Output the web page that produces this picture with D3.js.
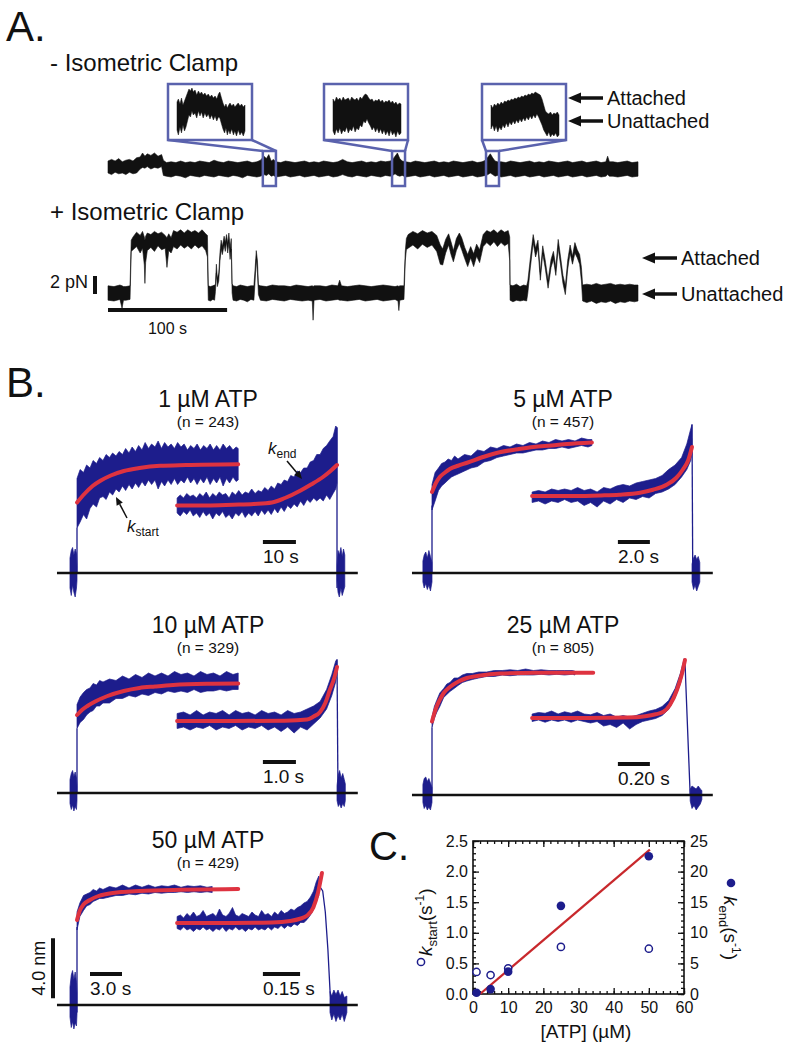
<!DOCTYPE html>
<html><head><meta charset="utf-8">
<script src="https://cdn.jsdelivr.net/npm/d3@7"></script>
<style>
body{margin:0;background:#fff}
text{font-family:"Liberation Sans",Arial,sans-serif;fill:#111}
</style>
</head><body>
<svg id="fig" width="792" height="1051"></svg>
<script>
// ---------- panel A data (time in s, force in pN, [t, low, high] envelopes) ----------
var topTrace = [[0,-0.5,1.0],[3,-0.7,1.2],[6,-0.4,1.0],[9,-0.6,1.3],[12,-0.5,0.9],[15,-0.7,1.1],[18,-0.4,1.2],[21,-0.6,1.0],[24,-0.5,1.4],[27,0.0,1.5],
  [29,0.2,2.0],[31,0.1,1.6],[33,0.3,1.9],[36,0.0,1.7],[39,0.2,2.0],[42,0.1,1.6],[45,0.3,1.8],[46.5,-0.8,1.1],
  [49,-0.9,0.8],[53,-1.0,0.9],[57,-0.8,0.8],[61,-0.9,1.0],[65,-1.1,0.8],[69,-0.8,0.9],[73,-0.9,0.8],[77,-1.0,1.0],[81,-0.8,0.9],[85,-0.9,0.8],[89,-1.0,1.1],[93,-0.8,0.9],[97,-0.9,0.8],[101,-1.0,1.0],[105,-0.8,0.9],[109,-0.9,0.8],[113,-1.1,0.9],[117,-0.8,1.0],[121,-0.9,0.8],[125,-1.0,0.9],
  [128,-0.9,1.1],[131,-0.7,1.6],[133,-0.8,1.3],[135,-0.6,1.8],[137,-0.9,1.0],[139,-0.8,1.2],[141,-1.0,0.9],
  [145,-0.9,0.8],[149,-0.8,1.0],[153,-1.0,0.9],[157,-0.9,0.8],[161,-0.8,0.9],[165,-1.0,1.0],[169,-0.9,0.8],[173,-0.8,0.9],[177,-1.0,0.8],[181,-0.9,1.0],[185,-0.8,0.9],[189,-1.0,0.8],[193,-0.9,0.9],[197,-0.7,1.2],[201,-0.9,0.9],[205,-1.0,0.8],[209,-0.8,0.9],[213,-0.9,1.0],[217,-1.0,0.8],[221,-0.8,0.9],[225,-0.9,0.8],[229,-1.0,1.0],[233,-0.8,0.9],
  [237,-0.9,1.0],[239,-0.8,1.2],[241,-0.6,1.6],[243,-0.8,2.0],[245,-0.9,1.3],[247,-0.8,1.0],[250,-1.0,0.9],
  [254,-0.9,0.8],[258,-0.8,1.0],[262,-1.0,0.9],[266,-0.9,0.8],[270,-0.8,0.9],[274,-1.0,1.0],[278,-0.9,0.8],[282,-0.8,0.9],[286,-1.0,0.8],[290,-0.9,1.0],[294,-0.8,0.9],[298,-1.0,0.8],[302,-0.9,0.9],[306,-0.8,1.0],[310,-1.0,0.8],[314,-0.9,0.9],
  [317,-0.8,1.1],[319,-0.7,1.5],[321,-0.5,1.9],[323,-0.7,1.4],[325,-0.9,1.0],[327,-0.8,0.9],[330,-1.0,0.9],
  [334,-0.9,0.8],[338,-0.8,1.0],[342,-1.0,0.9],[346,-0.9,0.8],[350,-0.8,0.9],[354,-1.0,1.0],[358,-0.9,0.8],[362,-0.8,0.9],[366,-1.0,0.8],[370,-0.9,1.0],[374,-0.8,0.9],[378,-1.0,0.8],[382,-0.9,0.9],[386,-0.8,1.0],[390,-1.0,0.8],[394,-0.9,0.9],[398,-0.8,1.0],[402,-1.0,0.8],[406,-0.9,0.9],[410,-0.8,1.0],[414,-1.0,0.8],[418,-0.9,0.9],[419.5,-0.7,1.6],[421,-0.9,0.9],[424,-0.9,0.9],[428,-1.0,0.8],[432,-0.9,0.9],[436,-0.8,1.0],[440,-1.0,0.8],[445,-0.9,0.9]];

var clampTrace = [[0,-0.9,0.9],[5,-1.0,0.8],[10,-0.8,1.0],[11.8,-1.9,0.9],[13,-0.9,0.8],[15,-0.9,0.8],[18.5,-0.8,0.9],[19.5,5.2,6.6],[21,5.4,7.0],
  [24,5.8,7.6],[27,5.0,7.2],[29,5.6,7.7],[30.5,3.5,7.0],[31,1.2,6.6],[31.6,3.8,7.1],[33,5.3,7.5],[36,5.7,7.3],[39,5.2,7.7],[42,5.9,7.4],[45,5.4,7.6],[48,5.6,7.2],[49.5,3.2,6.9],[51,5.3,7.4],[53,5.0,6.9],[55,5.8,7.8],[58,5.5,7.6],[61,6.0,7.9],[64,5.6,7.5],[67,5.9,7.9],[70,5.5,7.6],[73,6.0,7.8],[76,5.6,7.5],[79,5.9,7.9],[82,5.3,7.4],[83.5,4.5,7.2],
  [84.2,-0.9,0.9],[86,-1.0,0.8],[88,-0.8,0.9],[89.5,-0.9,1.0],
  [90.2,0.2,1.0],[91,2.5,3.6],[91.8,0.8,1.8],[93,1.5,2.5],[94,4.0,5.0],[95,5.5,6.6],[96,4.8,5.8],[97.5,6.0,7.1],[98.5,5.2,6.3],[99.5,6.4,7.3],[100.5,5.0,6.2],[101.5,6.3,7.5],[102.5,4.2,5.6],[103.5,5.5,6.8],[104.2,0.0,1.2],
  [105,-0.9,0.9],[108,-1.0,0.8],[111,-0.8,1.0],[114,-0.9,0.9],[117,-1.1,0.8],[120,-0.8,0.9],[122.5,-0.9,0.9],
  [123.5,1.5,3.0],[124.5,4.2,5.3],[125.5,2.5,4.0],[126.3,-0.2,1.0],
  [128,-0.9,0.9],[133,-1.0,0.8],[138,-0.8,1.0],[143,-0.9,0.9],[148,-1.0,0.9],[153,-0.8,0.8],[158,-0.9,1.0],[163,-1.0,0.9],[168,-0.9,0.8],[171.5,-1.0,0.9],[172.2,-3.4,0.8],[173,-0.9,0.9],[178,-0.8,0.9],[183,-1.0,0.8],[188,-0.9,1.0],[193,-0.8,0.9],[194.5,-0.9,1.6],[196,-0.9,0.9],[201,-1.0,0.8],[206,-0.9,0.9],[211,-0.8,1.0],[216,-1.0,0.9],[221,-0.9,0.8],[226,-0.8,0.9],[231,-1.0,1.0],[236,-0.9,0.9],[241,-0.8,0.8],[243.5,-1.0,0.9],[244.2,-2.2,0.8],[245,-0.9,0.9],[248.5,-0.8,0.9],
  [249.6,4.0,5.2],[250.5,5.4,6.8],[252,5.6,7.3],[256,6.0,7.7],[260,5.5,7.4],[264,6.1,7.8],[268,5.7,7.5],[272,6.0,7.7],[276,5.2,7.2],[279,3.6,6.0],[281,3.5,5.5],[283.5,5.0,6.7],[286,6.0,7.4],[288,4.8,6.4],[290,3.9,5.3],[292.5,5.3,6.8],[295,6.2,7.5],[297,5.4,6.9],[299.5,4.3,5.7],[302,3.3,4.8],[304.5,4.4,5.8],[307,3.3,4.9],[309.5,4.6,6.1],[312,3.8,5.4],[315,5.8,7.3],[318,6.3,7.8],[321,5.9,7.6],[324,6.4,7.9],[327,5.8,7.5],[330,6.3,7.9],[333,5.9,7.6],[336,6.2,7.8],[337.3,4.0,7.0],
  [337.6,-0.9,1.0],[340,-1.1,0.9],[343,-0.9,1.1],[346,-1.0,0.8],[349,-0.9,1.0],[351.5,-1.0,0.9],
  [352.5,0.0,1.5],[354.5,3.0,4.2],[357,6.3,7.3],[359,4.5,5.6],[361,5.6,6.6],[363,1.6,2.6],[365,4.9,5.9],[367,3.2,4.2],[369.5,0.6,1.6],[372,3.2,4.2],[374,4.2,5.2],[376,2.2,3.2],[378,5.6,6.7],[380,3.5,4.5],[382,1.2,2.2],[384,-0.2,0.9],[386,3.0,4.1],[388,5.0,6.0],[390,3.6,4.6],[392,5.0,6.3],[394,4.4,5.4],[396,3.6,4.8],[397.5,1.5,3.2],
  [398.5,-1.0,1.0],[402,-1.2,1.1],[406,-1.0,1.0],[410,-1.3,1.2],[414,-1.1,1.0],[418,-1.2,1.1],[422,-1.0,1.2],[426,-1.3,1.0],[430,-1.1,1.1],[434,-1.2,1.0],[438,-1.0,1.1],[442,-1.1,1.0],[445,-1.0,1.0]];

// zoomed windows (s) and the traces shown in the insets ([u 0-100, low, high] in inset units)
var insetWindows = [[130,141],[238.5,249.4],[317.4,328.3]];
var insetTraces = [
  [[0,5,33],[2,0,36],[4.4,8,31],[6.6,2,37],[8.8,10,30],[11,4,34],[13.2,8,38],[15.4,14,42],[17.6,20,46],[19.8,18,44],[22,24,47],[24,20,43],[26.5,22,45],[29,17,40],[31.5,24,44],[33.8,19,41],[36,23,43],[38.5,17,40],[41,22,42],[43.5,18,39],[46,21,41],[48.5,16,38],[51,20,40],[53.5,15,37],[56,19,39],[58.5,14,36],[61,18,41],[63,17,43],[65,12,38],[67.6,6,32],[70,2,28],[72,7,31],[74,0,27],[76,5,30],[78,1,32],[80.5,6,29],[83,0,31],[85,4,28],[87.5,-1,30],[90,5,32],[92.6,0,29],[95,3,31],[97.5,-1,28],[100,4,30]],
  [[0,4,36],[2.5,0,33],[5,6,38],[7.5,2,35],[10,7,37],[12.5,1,34],[15,5,38],[17.5,3,35],[20,8,36],[22.5,2,37],[25,6,34],[27.5,4,38],[30,9,36],[32.5,3,35],[35,7,37],[37.5,5,34],[40,10,38],[42.5,8,36],[45,14,39],[47.5,12,41],[50,16,40],[52.5,12,37],[55,9,35],[57.5,5,36],[60,8,33],[62.5,3,35],[65,7,34],[67.5,2,36],[70,6,33],[72.5,1,35],[75,5,32],[77.5,0,34],[80,4,33],[82.5,-1,35],[85,5,32],[87.5,0,34],[90,3,31],[92.5,-2,33],[95,4,30],[97.5,0,32],[100,2,31]],
  [[0,6,30],[2.5,10,27],[5,4,31],[7.5,9,29],[10,3,32],[12.5,8,30],[15,5,33],[17.5,10,31],[20,7,34],[22.5,12,33],[25,8,35],[27.5,13,34],[30,10,36],[32.5,14,35],[35,11,37],[37.5,15,36],[40,12,38],[42.5,16,37],[45,13,39],[47.5,17,38],[50,14,40],[52.5,18,39],[55,15,41],[57.5,19,40],[60,16,42],[62.5,20,41],[65,17,43],[67.5,21,42],[70,18,41],[72.5,14,40],[75,10,36],[77.5,5,30],[80,2,24],[82.5,-1,22],[85,3,21],[87.5,-2,23],[90,1,20],[92.5,-1,22],[95,2,21],[97.5,-2,23],[100,0,20]]
];

// ---------- panel B data (x: 0 = start of event, 100 = end; y in nm above baseline) ----------
var atpTitles = ["1 µM ATP", "5 µM ATP", "10 µM ATP", "25 µM ATP", "50 µM ATP"];
var eventCounts = [243, 457, 329, 805, 429];
var timeBars = [[[71.5,84.2,"10 s"]], [[71.5,83.8,"2.0 s"]], [[71.5,84.2,"1.0 s"]], [[71.5,83.8,"0.20 s"]], [[5,17.3,"3.0 s"],[71.5,85.8,"0.15 s"]]];

var fitStart = [
  [[0,4.7],[3,5.3],[6,5.8],[9,6.15],[13,6.5],[18,6.8],[24,7.0],[32,7.15],[42,7.2],[62,7.25]],
  [[0,5.4],[1.5,6.0],[3,6.4],[5,6.7],[7,6.95],[10,7.15],[13.5,7.35],[20,7.75],[26,8.05],[33,8.25],[39,8.4],[46,8.5],[52,8.6],[61.5,8.7]],
  [[0,5.2],[2,5.55],[4,5.8],[7,6.1],[11.5,6.45],[18,6.8],[24,7.0],[30,7.1],[37,7.2],[50,7.28],[62,7.3]],
  [[0,4.9],[0.9,5.45],[1.8,5.9],[3,6.35],[4.5,6.8],[6.9,7.2],[10,7.55],[13.4,7.8],[18,7.95],[26,8.1],[40,8.15],[62,8.15]],
  [[0,5.67],[1.1,6.3],[2.5,6.7],[5,7.0],[8,7.25],[11.5,7.4],[17,7.53],[24,7.6],[40,7.68],[62,7.73]]
];
var fitEnd = [
  [[38.5,4.5],[50,4.5],[60,4.55],[68,4.6],[75,4.7],[80,5.0],[86,5.5],[90,5.9],[94.6,6.4],[97.5,6.8],[100,7.2]],
  [[38.5,5.13],[55,5.13],[65,5.17],[72,5.22],[80,5.35],[85,5.55],[90.4,5.9],[94,6.35],[96.5,6.9],[98.5,7.5],[100,8.4]],
  [[38.5,4.8],[60,4.8],[80,4.82],[88.5,4.9],[91,5.1],[93.5,5.4],[95.5,6.0],[97.3,6.9],[99,7.7],[100,8.4]],
  [[38.5,5.13],[60,5.13],[75,5.16],[82,5.25],[86,5.38],[89,5.55],[91.5,6.0],[94.2,7.0],[96,8.0],[97.3,9.0]],
  [[38.5,5.47],[60,5.47],[75,5.5],[82,5.6],[85.8,5.75],[88.4,5.95],[90.9,6.5],[92.7,7.5],[94.2,8.8]]
];
var bandStart = [
  [[0,3.0,6.3],[1.2,3.4,6.9],[2.5,3.9,6.7],[3.7,3.6,7.2],[5,4.3,7.0],[6.2,4.6,7.5],[7.5,4.4,7.3],[8.7,5.0,7.7],[10,5.1,7.5],[11.2,4.9,7.9],[12.5,5.4,7.7],[13.7,5.2,8.0],[15,5.6,7.8],[16.2,5.4,8.1],[17.5,5.8,7.9],[18.7,5.5,8.3],[20,5.9,8.0],[21.2,5.6,8.4],[22.5,6.0,8.1],[23.7,5.7,8.5],[25,6.1,8.2],[26.2,5.8,8.7],[27.5,6.2,8.3],[28.7,5.9,8.6],[30,6.2,8.4],[31.2,5.6,8.8],[32.5,6.1,8.3],[33.7,5.8,8.7],[35,6.2,8.4],[36.2,5.9,8.6],[37.5,6.3,8.3],[38.7,5.9,8.7],[40,6.2,8.4],[41.2,6.0,8.6],[42.5,6.4,8.2],[43.7,6.0,8.5],[45,6.3,8.3],[46.2,5.9,8.6],[47.5,6.3,8.2],[48.7,6.0,8.5],[50,6.4,8.3],[51.2,5.9,8.6],[52.5,6.3,8.2],[53.7,6.0,8.5],[55,6.4,8.2],[56.2,5.8,8.6],[57.5,6.3,8.3],[58.7,6.0,8.5],[60,6.4,8.2],[61.2,6.1,8.4],[62,6.2,8.3]],
  [[0,4.2,5.9],[1.2,4.8,6.7],[2.5,5.5,7.0],[3.7,5.8,7.3],[5,6.0,7.4],[6.2,6.2,7.6],[7.5,6.4,7.5],[8.7,6.5,7.8],[10,6.6,7.6],[12.5,6.8,7.9],[15,7.0,7.8],[17.5,7.1,8.2],[20,7.4,8.1],[22.5,7.5,8.4],[25,7.7,8.3],[27.5,7.8,8.5],[30,7.9,8.4],[32.5,8.0,8.6],[35,8.0,8.5],[37.5,8.1,8.7],[40,8.2,8.6],[42.5,8.2,8.8],[45,8.3,8.7],[47.5,8.3,8.9],[50,8.4,8.8],[52.5,8.3,8.9],[55,8.4,8.8],[57.5,8.5,9.0],[60,8.4,8.9],[61.5,8.5,8.9]],
  [[0,4.3,5.9],[1.2,4.7,6.4],[2.5,4.9,6.7],[3.7,5.2,6.9],[5,5.4,7.0],[6.2,5.5,7.3],[7.5,5.8,7.2],[8.7,5.8,7.5],[10,6.0,7.4],[12.5,6.0,7.6],[15,6.3,7.5],[17.5,6.3,7.8],[20,6.5,7.6],[22.5,6.4,7.9],[25,6.6,7.7],[27.5,6.5,8.0],[30,6.7,7.8],[32.5,6.6,8.0],[35,6.8,7.8],[37.5,6.7,8.1],[40,6.8,7.9],[42.5,6.7,8.0],[45,6.9,7.8],[47.5,6.7,8.1],[50,6.8,7.9],[52.5,6.8,8.0],[55,6.9,7.8],[57.5,6.8,8.1],[60,6.9,7.9],[62,6.9,8.0]],
  [[0,4.5,5.2],[0.9,5.1,5.9],[1.8,5.5,6.3],[3,5.9,6.8],[4.5,6.5,7.1],[5.7,6.7,7.4],[6.9,6.9,7.5],[8.5,7.1,7.8],[10,7.3,7.8],[11.7,7.5,8.0],[13.4,7.6,8.1],[15.5,7.7,8.1],[18,7.8,8.2],[21,7.9,8.2],[24,7.9,8.3],[27,8.0,8.3],[30,7.95,8.35],[33,8.0,8.3],[36,8.0,8.4],[39,8.0,8.3],[42,8.05,8.35],[45,8.0,8.3],[48,8.05,8.3],[51,8.0,8.3],[54,8.05,8.3],[55,8.0,8.25]],
  [[0,5.0,6.2],[1.1,5.9,6.8],[2.5,6.3,7.3],[3.7,6.6,7.4],[5,6.7,7.5],[6.2,6.9,7.7],[7.5,7.0,7.6],[8.7,7.1,7.8],[10,7.1,7.7],[12.5,7.2,7.9],[15,7.3,7.8],[17.5,7.3,8.0],[20,7.4,7.8],[22.5,7.35,8.0],[25,7.45,7.85],[27.5,7.4,8.0],[30,7.5,7.85],[32.5,7.45,7.95],[35,7.5,7.9],[37.5,7.5,8.0],[40,7.55,7.85],[42.5,7.5,7.95],[45,7.55,7.9],[47.5,7.5,7.95],[50,7.55,7.85],[52,7.5,7.9]]
];
var bandEnd = [
  [[38.5,4.0,5.0],[39.7,3.8,5.2],[41,4.1,5.0],[42.2,3.9,5.3],[43.5,4.2,5.1],[44.7,3.8,5.2],[46,4.0,5.0],[47.2,3.7,5.3],[48.5,4.1,5.1],[49.7,3.8,5.4],[51,4.0,5.0],[52.2,3.6,5.3],[53.5,4.0,5.1],[54.7,3.8,5.4],[56,4.1,5.2],[57.2,3.7,5.3],[58.5,3.9,5.0],[59.7,3.6,5.4],[61,4.0,5.2],[62.2,3.8,5.5],[63.5,4.1,5.2],[64.7,3.7,5.4],[66,4.0,5.3],[67.2,3.8,5.6],[68.5,4.1,5.3],[69.7,3.8,5.5],[71,4.2,5.4],[72.2,3.9,5.7],[73.5,4.2,5.5],[74.7,3.9,5.8],[76,4.3,5.6],[77.2,4.0,6.0],[78.5,4.4,5.9],[79.7,4.1,6.2],[81,4.5,6.1],[82.2,4.3,6.5],[83.5,4.6,6.4],[84.7,4.4,6.8],[86,4.8,6.7],[87.2,4.5,7.0],[88.5,4.9,7.0],[89.7,4.7,7.4],[91,5.0,7.5],[92.2,4.8,7.9],[93.5,5.0,7.9],[94.7,4.8,8.3],[96,5.2,8.5],[97.2,4.9,8.8],[98.5,5.3,9.1],[99.5,5.6,9.8],[100,6.0,9.7]],
  [[38.5,4.7,5.4],[41,4.8,5.5],[43.5,4.6,5.4],[46,4.8,5.6],[48.5,4.7,5.5],[51,4.9,5.6],[53.5,4.7,5.5],[56,4.8,5.7],[58.5,4.5,5.5],[61,4.7,5.6],[63.5,4.4,5.4],[66,4.8,5.7],[68.5,4.6,5.6],[71,4.9,5.8],[73.5,4.7,5.9],[76,5.0,5.8],[78.5,4.9,6.0],[81,5.1,6.1],[83.5,5.0,6.2],[86,5.3,6.3],[88.5,5.4,6.5],[91,5.6,6.9],[93.5,5.9,7.2],[96,6.4,7.7],[98,6.9,8.6],[99.5,7.5,9.6],[100,8.0,9.9]],
  [[38.5,4.3,5.3],[41,4.4,5.4],[43.5,4.2,5.2],[46,4.4,5.5],[48.5,4.3,5.2],[51,4.5,5.4],[53.5,4.2,5.3],[56,4.4,5.5],[58.5,4.3,5.2],[61,4.5,5.5],[63.5,4.2,5.3],[66,4.4,5.4],[68.5,4.3,5.2],[71,4.5,5.5],[73.5,4.2,5.3],[76,4.4,5.4],[78.5,4.1,5.2],[81,4.4,5.5],[83.5,4.0,5.3],[86,4.4,5.4],[88.5,4.2,5.6],[91,4.6,5.8],[93.5,5.0,6.1],[96,5.6,6.9],[98,6.5,7.9],[99.5,7.4,8.8],[100,8.0,8.9]],
  [[38.5,4.9,5.4],[41,5.0,5.5],[43.5,4.85,5.45],[46,5.0,5.6],[48.5,4.9,5.4],[51,5.0,5.55],[53.5,4.85,5.45],[56,5.0,5.6],[58.5,4.9,5.4],[61,4.8,5.35],[63.5,4.9,5.5],[66,4.6,5.3],[68.5,4.7,5.4],[71,4.5,5.2],[73.5,4.8,5.3],[76,4.4,5.2],[78.5,4.7,5.3],[81,4.9,5.45],[83.5,5.0,5.6],[86,5.1,5.7],[88.5,5.3,5.9],[91,5.7,6.3],[93.5,6.5,7.1],[95.5,7.4,8.1],[97,8.4,9.1]],
  [[38.5,5.1,5.9],[39.8,5.0,6.0],[41,5.2,5.8],[42.3,5.0,6.1],[43.5,5.1,5.9],[44.8,4.9,6.2],[46,5.1,5.9],[47.3,5.0,6.0],[48.5,5.2,6.3],[49.8,5.0,5.9],[51,5.1,6.0],[52.3,4.9,6.1],[53.5,5.1,5.9],[54.8,5.0,6.4],[56,5.2,6.0],[57.3,4.9,5.9],[58.5,5.1,6.1],[59.8,5.0,6.5],[61,5.2,6.0],[62.3,5.0,5.9],[63.5,5.1,6.1],[64.8,4.9,6.0],[66,5.1,5.9],[67.3,5.0,6.2],[68.5,5.2,6.0],[69.8,5.0,5.9],[71,5.1,6.3],[72.3,5.0,6.0],[73.5,5.2,6.1],[74.8,5.0,5.9],[76,5.2,6.2],[77.3,5.1,6.0],[78.5,5.3,6.3],[79.8,5.1,6.1],[81,5.3,6.2],[82.3,5.2,6.4],[83.5,5.4,6.3],[84.8,5.3,6.5],[86,5.5,6.6],[87.3,5.5,6.8],[88.5,5.7,6.9],[89.8,6.0,7.2],[91,6.4,7.6],[92,6.9,8.2],[93,7.3,8.6]]
];
var noisePre = [
  [[-2.7,-1.0,1.0],[-2.2,-1.5,1.5],[-1.7,-0.8,1.7],[-1.2,-1.3,1.2],[-0.7,-1.6,1.6],[-0.2,-1.0,1.3],[0,-0.5,0.5]],
  [[-3.5,-0.6,0.8],[-3,-1.0,1.2],[-2.4,-0.7,1.4],[-1.8,-1.1,1.0],[-1.2,-0.8,1.5],[-0.6,-1.2,1.1],[0,-0.6,0.7]],
  [[-2.7,-0.7,0.9],[-2.2,-1.1,1.3],[-1.7,-0.8,1.5],[-1.2,-1.2,1.1],[-0.7,-0.9,1.4],[-0.2,-1.1,1.0],[0,-0.5,0.5]],
  [[-3.5,-0.5,0.7],[-3,-0.9,1.1],[-2.4,-0.7,1.2],[-1.8,-1.0,0.9],[-1.2,-0.8,1.1],[-0.6,-1.0,0.8],[0,-0.5,0.5]],
  [[-2.7,-0.8,1.2],[-2.2,-1.5,2.0],[-1.7,-1.1,2.3],[-1.2,-1.6,1.7],[-0.7,-1.2,2.2],[-0.2,-1.4,1.5],[0,-0.6,0.8]]
];
var noisePost = [
  [[100,-0.5,0.5],[100.4,-1.3,1.5],[100.9,-1.6,1.2],[101.5,-1.0,1.7],[102,-1.5,1.1],[102.5,-1.2,1.6],[103,-0.9,1.2]],
  [[100,-0.6,0.6],[100.6,-1.1,1.0],[101.2,-0.8,1.2],[101.8,-1.2,0.9],[102.4,-0.9,1.1],[103,-0.6,0.7]],
  [[100,-0.5,0.5],[100.5,-0.9,1.2],[101,-0.7,1.5],[101.6,-1.0,1.0],[102.2,-0.7,1.3],[102.8,-0.9,0.9],[103.2,-0.5,0.6]],
  [[99.3,-0.4,0.4],[100,-0.9,0.6],[100.8,-0.7,0.5],[101.6,-1.0,0.4],[102.4,-0.8,0.6],[103.2,-0.6,0.4],[103.8,-0.3,0.3]],
  [[97.3,-0.5,0.9],[98,-1.0,0.6],[98.8,-0.6,1.0],[99.6,-1.1,0.7],[100.4,-0.7,1.0],[101.2,-1.0,0.6],[102,-0.6,0.9],[102.8,-1.1,0.5],[103.8,-0.5,0.6]]
];
var riseEdge = [[[0,0],[0,3.0]], [[0,0],[0,4.5]], [[0,0],[0,4.3]], [[0,0],[0,4.5]], [[0,-0.5],[0,5.2]]];
var fallEdge = [[[100,9.7],[100,-1.0]], [[100,9.9],[100.3,-0.5]], [[100,8.9],[100.4,-0.5]], [[97.3,9.0],[97.6,7.5],[99.3,0]], [[93,8.0],[94.5,7.6],[95.5,6.2],[96.5,3.7],[97.3,1.0],[98,-0.3]]];

// ---------- panel C data ----------
var atpConc = [1, 5, 10, 25, 50];
var kStart = [0.36, 0.31, 0.42, 0.77, 0.74];
var kEnd = [0.2, 0.8, 3.65, 14.4, 22.5];
var kEndFit = [[2, 0], [50.3, 23.6]];
var atpTicks = [0, 10, 20, 30, 40, 50, 60];
var kStartTicks = [0, 0.5, 1.0, 1.5, 2.0, 2.5];
var kEndTicks = [0, 5, 10, 15, 20, 25];

//=========
var svg = d3.select("#fig");
var navy = "#1d1d8c", red = "#de3340", boxBlue = "#5a62ad";

function band(xs, ys){
  return d3.area().x(d => xs(d[0])).y0(d => ys(d[1])).y1(d => ys(d[2]));
}
function addText(x, y, str, size, anchor){
  return svg.append("text").attr("x", x).attr("y", y).attr("font-size", size)
    .attr("text-anchor", anchor || "start").text(str);
}
// thick arrow with a filled triangular head at (x2,y2)
function arrow(x1, y1, x2, y2, w, hl, hw){
  var a = Math.atan2(y2 - y1, x2 - x1), c = Math.cos(a), s = Math.sin(a);
  var bx = x2 - hl * c, by = y2 - hl * s;
  svg.append("line").attr("x1", x1).attr("y1", y1).attr("x2", bx).attr("y2", by)
    .attr("stroke", "#111").attr("stroke-width", w);
  svg.append("polygon").attr("fill", "#111")
    .attr("points", [[x2, y2], [bx - hw * s, by + hw * c], [bx + hw * s, by - hw * c]].join(" "));
}

// ===== Panel A =====
addText(6, 41, "A.", 42);
addText(50, 71, "- Isometric Clamp", 24);
addText(50, 220, "+ Isometric Clamp", 24);

var tA = d3.scaleLinear().domain([0, 445]).range([108, 638]);
var yTop = d3.scaleLinear().domain([0, 1]).range([169, 161]);
var yClamp = d3.scaleLinear().domain([0, 1]).range([293, 285]);

svg.append("path").datum(topTrace).attr("d", band(tA, yTop))
  .attr("fill", "#111").attr("stroke", "#111").attr("stroke-width", 0.6);
svg.append("path").datum(clampTrace).attr("d", band(tA, yClamp))
  .attr("fill", "#111").attr("stroke", "#111").attr("stroke-width", 0.6);

var boxLeft = [168, 324, 482];
insetWindows.forEach(function(w, i){
  var bx = boxLeft[i], sx0 = tA(w[0]), sx1 = tA(w[1]);
  var ix = d3.scaleLinear().domain([0, 100]).range([bx + 9, bx + 77]);
  var iy = d3.scaleLinear().domain([0, 40]).range([135, 95]);
  svg.append("path").datum(insetTraces[i]).attr("d", band(ix, iy))
    .attr("fill", "#111").attr("stroke", "#111").attr("stroke-width", 0.5);
  var g = svg.append("g").attr("fill", "none").attr("stroke", boxBlue).attr("stroke-width", 2.5);
  g.append("rect").attr("x", bx).attr("y", 84).attr("width", 84).attr("height", 56);
  g.append("rect").attr("x", sx0).attr("y", 151).attr("width", sx1 - sx0).attr("height", 35);
  g.append("line").attr("x1", bx).attr("y1", 140).attr("x2", sx0).attr("y2", 151);
  g.append("line").attr("x1", bx + 84).attr("y1", 140).attr("x2", sx1).attr("y2", 151);
});

arrow(603, 98, 568, 98, 3.5, 13, 5.5);
arrow(603, 121, 568, 121, 3.5, 13, 5.5);
addText(607, 105, "Attached", 20);
addText(607, 128, "Unattached", 20);
arrow(677, 258, 642, 258, 3.5, 13, 5.5);
arrow(677, 294, 642, 294, 3.5, 13, 5.5);
addText(681, 265, "Attached", 20);
addText(681, 301, "Unattached", 20);

// force and time scale bars
svg.append("line").attr("x1", 95).attr("x2", 95).attr("y1", yClamp(0) + 1).attr("y2", yClamp(2) - 1)
  .attr("stroke", "#111").attr("stroke-width", 4);
addText(88, 288, "2 pN", 18, "end");
svg.append("line").attr("x1", tA(0)).attr("x2", tA(100)).attr("y1", 310).attr("y2", 310)
  .attr("stroke", "#111").attr("stroke-width", 4);
addText(tA(50), 334, "100 s", 16, "middle");

// ===== Panel B =====
addText(6, 397, "B.", 42);
var trialOrigin = [[77, 573], [432, 573], [77, 793], [432, 795], [77, 1005]];
var titleCenter = [208, 563, 208, 563, 208];
var titleBase = [407, 407, 633, 633, 848];

atpTitles.forEach(function(title, i){
  var ox = trialOrigin[i][0], by = trialOrigin[i][1];
  var x = d3.scaleLinear().domain([0, 100]).range([ox, ox + 260]);
  var y = d3.scaleLinear().domain([0, 1]).range([by, by - 15]);
  var area = band(x, y);
  var line = d3.line().x(d => x(d[0])).y(d => y(d[1]));
  var fitLine = d3.line().curve(d3.curveMonotoneX).x(d => x(d[0])).y(d => y(d[1]));

  [noisePre[i], noisePost[i], bandStart[i], bandEnd[i]].forEach(function(b){
    svg.append("path").datum(b).attr("d", area)
      .attr("fill", navy).attr("stroke", navy).attr("stroke-width", 0.7);
  });
  [riseEdge[i], fallEdge[i]].forEach(function(e){
    svg.append("path").datum(e).attr("d", line)
      .attr("fill", "none").attr("stroke", navy).attr("stroke-width", 1.3);
  });
  [fitStart[i], fitEnd[i]].forEach(function(f){
    svg.append("path").datum(f).attr("d", fitLine)
      .attr("fill", "none").attr("stroke", red).attr("stroke-width", 4).attr("stroke-linecap", "round");
  });
  svg.append("line").attr("x1", x(-7.7)).attr("x2", x(108)).attr("y1", by).attr("y2", by)
    .attr("stroke", "#111").attr("stroke-width", 2.5);

  addText(titleCenter[i], titleBase[i], title, 23, "middle");
  addText(titleCenter[i], titleBase[i] + 20, "(n = " + eventCounts[i] + ")", 15.5, "middle");

  timeBars[i].forEach(function(b){
    svg.append("line").attr("x1", x(b[0])).attr("x2", x(b[1])).attr("y1", by - 31).attr("y2", by - 31)
      .attr("stroke", "#111").attr("stroke-width", 4);
    addText(x(b[0]), by - 10, b[2], 19);
  });

  if (i === 4){
    svg.append("line").attr("x1", 53).attr("x2", 53).attr("y1", y(0.45)).attr("y2", y(4.45))
      .attr("stroke", "#111").attr("stroke-width", 4);
    svg.append("text").attr("transform", "translate(45," + y(2.45) + ") rotate(-90)")
      .attr("text-anchor", "middle").attr("font-size", 18).text("4.0 nm");
  }
});

// k_start / k_end annotations
var ks = svg.append("text").attr("x", 127).attr("y", 532).attr("font-size", 17);
ks.append("tspan").attr("font-style", "italic").text("k");
ks.append("tspan").attr("font-size", 12).attr("dy", 4).text("start");
var ke = svg.append("text").attr("x", 268).attr("y", 454).attr("font-size", 17);
ke.append("tspan").attr("font-style", "italic").text("k");
ke.append("tspan").attr("font-size", 12).attr("dy", 4).text("end");
arrow(127, 518, 116, 497, 1.5, 8, 3.5);
arrow(287, 461, 302, 479, 1.5, 8, 3.5);

// ===== Panel C =====
addText(369, 860, "C.", 40);
var xC = d3.scaleLinear().domain([0, 60]).range([473, 684]);
var yStart = d3.scaleLinear().domain([0, 2.5]).range([994, 841]);
var yEnd = d3.scaleLinear().domain([0, 25]).range([994, 841]);

function axisG(axis, tx, ty){
  var g = svg.append("g").attr("transform", "translate(" + tx + "," + ty + ")").call(axis);
  g.select(".domain").remove();
  g.selectAll("line").attr("stroke", "#111").attr("stroke-width", 1.3);
  g.selectAll("text").attr("font-size", 16).attr("fill", "#111")
    .attr("font-family", "Liberation Sans, Arial, sans-serif");
  return g;
}
axisG(d3.axisBottom(xC).tickValues(d3.range(0, 61, 2)).tickSizeInner(-3).tickSizeOuter(0).tickFormat(""), 0, 994);
axisG(d3.axisTop(xC).tickValues(d3.range(0, 61, 2)).tickSizeInner(-3).tickSizeOuter(0).tickFormat(""), 0, 841);
axisG(d3.axisBottom(xC).tickValues(atpTicks).tickSizeInner(-6).tickSizeOuter(0).tickPadding(8), 0, 994);
axisG(d3.axisTop(xC).tickValues(atpTicks).tickSizeInner(-6).tickSizeOuter(0).tickFormat(""), 0, 841);
axisG(d3.axisLeft(yStart).tickValues(d3.range(0, 2.51, 0.1)).tickSizeInner(-3).tickSizeOuter(0).tickFormat(""), 473, 0);
axisG(d3.axisLeft(yStart).tickValues(kStartTicks).tickSizeInner(-6).tickSizeOuter(0).tickPadding(5)
  .tickFormat(d3.format(".1f")), 473, 0);
axisG(d3.axisRight(yEnd).tickValues(d3.range(0, 26, 1)).tickSizeInner(-3).tickSizeOuter(0).tickFormat(""), 684, 0);
axisG(d3.axisRight(yEnd).tickValues(kEndTicks).tickSizeInner(-6).tickSizeOuter(0).tickPadding(6), 684, 0);

svg.append("rect").attr("x", 473).attr("y", 841).attr("width", 211).attr("height", 153)
  .attr("fill", "none").attr("stroke", "#111").attr("stroke-width", 1.6);

svg.append("path").datum(kEndFit)
  .attr("d", d3.line().x(d => xC(d[0])).y(d => yEnd(d[1])))
  .attr("stroke", "#c8282c").attr("stroke-width", 2.2).attr("fill", "none");

svg.append("g").selectAll("circle").data(atpConc).join("circle")
  .attr("cx", d => xC(d)).attr("cy", (d, i) => yStart(kStart[i])).attr("r", 3.6)
  .attr("fill", "#fff").attr("stroke", navy).attr("stroke-width", 1.5);
svg.append("g").selectAll("circle").data(atpConc).join("circle")
  .attr("cx", d => xC(d)).attr("cy", (d, i) => yEnd(kEnd[i])).attr("r", 4.3)
  .attr("fill", navy);

addText(586, 1038, "[ATP] (µM)", 19, "middle");

// left axis title: open marker + k_start (s^-1)
svg.append("circle").attr("cx", 421).attr("cy", 962).attr("r", 3.6)
  .attr("fill", "#fff").attr("stroke", navy).attr("stroke-width", 1.5);
var lt = svg.append("text").attr("transform", "translate(432,956) rotate(-90)").attr("font-size", 19);
lt.append("tspan").attr("font-style", "italic").text("k");
lt.append("tspan").attr("font-size", 13).attr("dy", 5).text("start");
lt.append("tspan").attr("dy", -5).text("(s");
lt.append("tspan").attr("font-size", 12).attr("dy", -8).text("-1");
lt.append("tspan").attr("dy", 8).text(")");

// right axis title: filled marker + k_end (s^-1)
svg.append("circle").attr("cx", 731).attr("cy", 883).attr("r", 4.3).attr("fill", navy);
var rt = svg.append("text").attr("transform", "translate(724,896) rotate(90)").attr("font-size", 19);
rt.append("tspan").attr("font-style", "italic").text("k");
rt.append("tspan").attr("font-size", 13).attr("dy", 5).text("end");
rt.append("tspan").attr("dy", -5).text("(s");
rt.append("tspan").attr("font-size", 12).attr("dy", -8).text("-1");
rt.append("tspan").attr("dy", 8).text(")");
</script>
</body></html>
